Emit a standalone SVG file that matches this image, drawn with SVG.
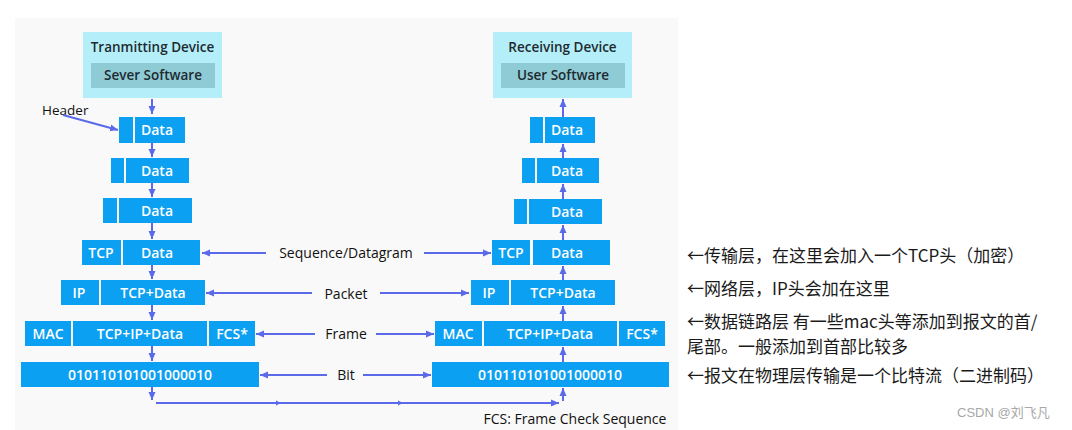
<svg xmlns="http://www.w3.org/2000/svg" width="1072" height="430" viewBox="0 0 1072 430">
<defs>
<marker id="ah" markerUnits="userSpaceOnUse" markerWidth="9" markerHeight="9" refX="8" refY="4" orient="auto">
<path d="M0,0.5 L8,4 L0,7.5 z" fill="#5a6ae8"/>
</marker>
<marker id="sm" markerUnits="userSpaceOnUse" markerWidth="6" markerHeight="6" refX="5" refY="3" orient="auto">
<path d="M0,0.5 L5,3 L0,5.5 z" fill="#5a6ae8"/>
</marker>
</defs>
<style>
.b{fill:#0ca0f2}
.bt{fill:#ffffff;font-family:"Open Sans","Liberation Sans",sans-serif;font-size:14px;font-weight:600;text-anchor:middle}
.dev{fill:#b4eff9}
.inn{fill:#8ecbd5}
.dt{fill:#1e2a30;font-family:"Open Sans","Liberation Sans",sans-serif;font-size:13.5px;font-weight:600;text-anchor:middle}
.lb{fill:#111;font-family:"Open Sans","Liberation Sans",sans-serif;font-size:14px;font-weight:500;text-anchor:middle}
.c{stroke:#5a6ae8;stroke-width:2;fill:none}
.cn{fill:#1a1a1a;font-family:"Noto Sans CJK SC","Liberation Sans",sans-serif;font-size:17px}
</style>
<rect x="0" y="0" width="1072" height="430" fill="#ffffff"/>
<rect x="15" y="18" width="663" height="412" fill="#f9f9f9"/>

<g id="tx-device">
<rect class="dev" x="83" y="32" width="139" height="66"/>
<text class="dt" x="152.5" y="52">Tranmitting Device</text>
<rect class="inn" x="91" y="63" width="124" height="25"/>
<text class="dt" x="153" y="80">Sever Software</text>
</g>
<g id="rx-device">
<rect class="dev" x="493" y="32" width="139" height="66"/>
<text class="dt" x="562.5" y="52">Receiving Device</text>
<rect class="inn" x="501" y="63" width="124" height="25"/>
<text class="dt" x="563" y="80">User Software</text>
</g>

<g id="header-label">
<text x="42" y="115" fill="#111" font-family="Open Sans, Liberation Sans, sans-serif" font-size="13.5" font-weight="500">Header</text>
</g>

<g id="l-row1">
<rect class="b" x="119" y="117" width="14" height="26"/>
<rect class="b" x="135" y="117" width="50" height="26"/>
<text class="bt" x="157" y="135">Data</text>
</g>
<g id="l-row2">
<rect class="b" x="111" y="158" width="13" height="25"/>
<rect class="b" x="126" y="158" width="63" height="25"/>
<text class="bt" x="157" y="176">Data</text>
</g>
<g id="l-row3">
<rect class="b" x="103" y="198" width="14" height="25"/>
<rect class="b" x="119" y="198" width="73" height="25"/>
<text class="bt" x="157" y="216">Data</text>
</g>
<g id="l-row4">
<rect class="b" x="82" y="240" width="39" height="25"/>
<text class="bt" x="101" y="258">TCP</text>
<rect class="b" x="123" y="240" width="77" height="25"/>
<text class="bt" x="157" y="258">Data</text>
</g>
<g id="l-row5">
<rect class="b" x="61" y="280" width="38" height="25"/>
<text class="bt" x="79" y="298">IP</text>
<rect class="b" x="101" y="280" width="104" height="25"/>
<text class="bt" x="153" y="298">TCP+Data</text>
</g>
<g id="l-row6">
<rect class="b" x="25" y="321" width="46" height="25"/>
<text class="bt" x="48" y="339">MAC</text>
<rect class="b" x="73" y="321" width="134" height="25"/>
<text class="bt" x="140" y="339">TCP+IP+Data</text>
<rect class="b" x="209" y="321" width="46" height="25"/>
<text class="bt" x="232" y="339">FCS*</text>
</g>
<g id="l-row7">
<rect class="b" x="21" y="362" width="238" height="25"/>
<text class="bt" x="140" y="380">010110101001000010</text>
</g>

<g id="r-row1">
<rect class="b" x="530" y="117" width="13" height="26"/>
<rect class="b" x="545" y="117" width="50" height="26"/>
<text class="bt" x="567" y="135">Data</text>
</g>
<g id="r-row2">
<rect class="b" x="522" y="158" width="13" height="25"/>
<rect class="b" x="537" y="158" width="62" height="25"/>
<text class="bt" x="567" y="176">Data</text>
</g>
<g id="r-row3">
<rect class="b" x="514" y="199" width="13" height="25"/>
<rect class="b" x="529" y="199" width="73" height="25"/>
<text class="bt" x="567" y="217">Data</text>
</g>
<g id="r-row4">
<rect class="b" x="492" y="240" width="38" height="25"/>
<text class="bt" x="511" y="258">TCP</text>
<rect class="b" x="533" y="240" width="77" height="25"/>
<text class="bt" x="567" y="258">Data</text>
</g>
<g id="r-row5">
<rect class="b" x="471" y="280" width="38" height="25"/>
<text class="bt" x="489" y="298">IP</text>
<rect class="b" x="511" y="280" width="104" height="25"/>
<text class="bt" x="563" y="298">TCP+Data</text>
</g>
<g id="r-row6">
<rect class="b" x="435" y="321" width="47" height="25"/>
<text class="bt" x="458" y="339">MAC</text>
<rect class="b" x="484" y="321" width="133" height="25"/>
<text class="bt" x="550" y="339">TCP+IP+Data</text>
<rect class="b" x="619" y="321" width="46" height="25"/>
<text class="bt" x="642" y="339">FCS*</text>
</g>
<g id="r-row7">
<rect class="b" x="432" y="362" width="237" height="25"/>
<text class="bt" x="550" y="380">010110101001000010</text>
</g>

<g id="layer-labels">
<text class="lb" x="346" y="258">Sequence/Datagram</text>
<text class="lb" x="346" y="299">Packet</text>
<text class="lb" x="346" y="339">Frame</text>
<text class="lb" x="346" y="380">Bit</text>
<text class="lb" x="575" y="424">FCS: Frame Check Sequence</text>
</g>

<g id="connectors">
<line class="c" x1="63" y1="115" x2="118" y2="130" marker-end="url(#ah)"/>
<line class="c" x1="152" y1="99" x2="152" y2="114" marker-end="url(#ah)"/>
<line class="c" x1="152" y1="143" x2="152" y2="157" marker-end="url(#ah)"/>
<line class="c" x1="152" y1="183" x2="152" y2="197" marker-end="url(#ah)"/>
<line class="c" x1="152" y1="223" x2="152" y2="239" marker-end="url(#ah)"/>
<line class="c" x1="152" y1="265" x2="152" y2="279" marker-end="url(#ah)"/>
<line class="c" x1="152" y1="305" x2="152" y2="320" marker-end="url(#ah)"/>
<line class="c" x1="152" y1="346" x2="152" y2="361" marker-end="url(#ah)"/>
<line class="c" x1="152" y1="387" x2="152" y2="400" marker-end="url(#ah)"/>
<line class="c" x1="156" y1="403" x2="281" y2="403" marker-end="url(#sm)"/>
<line class="c" x1="280" y1="403" x2="403" y2="403" marker-end="url(#sm)"/>
<line class="c" x1="402" y1="403" x2="559" y2="403" marker-end="url(#ah)"/>
<line class="c" x1="563" y1="401" x2="563" y2="388" marker-end="url(#ah)"/>
<line class="c" x1="563" y1="362" x2="563" y2="347" marker-end="url(#ah)"/>
<line class="c" x1="563" y1="321" x2="563" y2="306" marker-end="url(#ah)"/>
<line class="c" x1="563" y1="280" x2="563" y2="266" marker-end="url(#ah)"/>
<line class="c" x1="563" y1="240" x2="563" y2="225" marker-end="url(#ah)"/>
<line class="c" x1="563" y1="199" x2="563" y2="184" marker-end="url(#ah)"/>
<line class="c" x1="563" y1="158" x2="563" y2="144" marker-end="url(#ah)"/>
<line class="c" x1="563" y1="117" x2="563" y2="99" marker-end="url(#ah)"/>
<line class="c" x1="266" y1="253" x2="202" y2="253" marker-end="url(#ah)"/>
<line class="c" x1="424" y1="253" x2="491" y2="253" marker-end="url(#ah)"/>
<line class="c" x1="312" y1="293" x2="206" y2="293" marker-end="url(#ah)"/>
<line class="c" x1="380" y1="293" x2="469" y2="293" marker-end="url(#ah)"/>
<line class="c" x1="315" y1="334" x2="256" y2="334" marker-end="url(#ah)"/>
<line class="c" x1="376" y1="334" x2="434" y2="334" marker-end="url(#ah)"/>
<line class="c" x1="327" y1="375" x2="260" y2="375" marker-end="url(#ah)"/>
<line class="c" x1="363" y1="375" x2="431" y2="375" marker-end="url(#ah)"/>
</g>

<g id="notes">
<text class="cn" x="687" y="262">←传输层，在这里会加入一个TCP头（加密）</text>
<text class="cn" x="687" y="295">←网络层，IP头会加在这里</text>
<text class="cn" x="687" y="328">←数据链路层 有一些mac头等添加到报文的首/</text>
<text class="cn" x="687" y="353">尾部。一般添加到首部比较多</text>
<text class="cn" x="687" y="382">←报文在物理层传输是一个比特流（二进制码）</text>
<text x="957" y="417" fill="#a8a8a8" font-family="Liberation Sans, Noto Sans CJK SC, sans-serif" font-size="13">CSDN @刘飞凡</text>
</g>
</svg>
